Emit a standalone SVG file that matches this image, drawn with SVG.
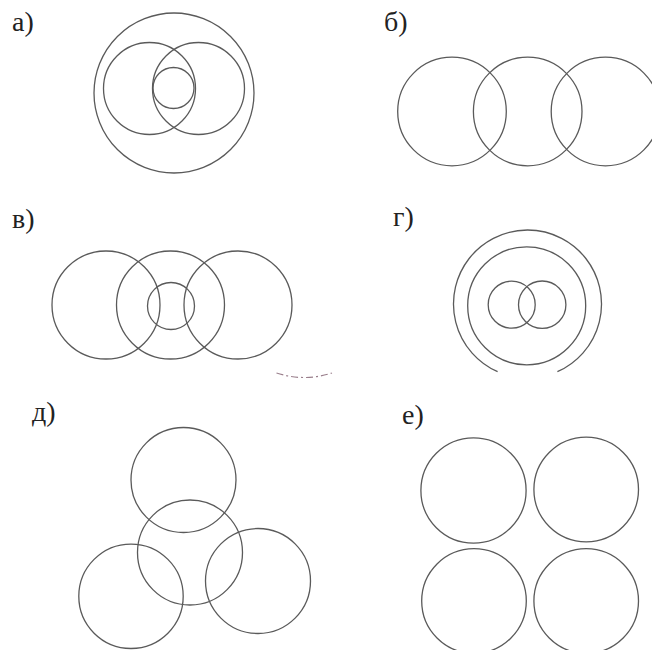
<svg xmlns="http://www.w3.org/2000/svg" width="652" height="650" viewBox="0 0 652 650">
<style>
.c{fill:none;stroke:#5a5a5a;stroke-width:1.3}
.lbl{font-family:"Liberation Serif","DejaVu Serif",serif;font-size:28px;fill:#222}
.d{fill:none;stroke:#9a7f8c;stroke-width:1.2;stroke-dasharray:7 3 2 3}
</style>
<rect width="652" height="650" fill="#fff"/>
<g id="panel-a">
<text class="lbl" x="12" y="31">а)</text>
<circle class="c" cx="174" cy="93" r="80"/>
<circle class="c" cx="149.5" cy="88.5" r="46"/>
<circle class="c" cx="198.5" cy="88.5" r="46"/>
<circle class="c" cx="173.5" cy="88" r="20.5"/>
</g>
<g id="panel-b">
<text class="lbl" x="384" y="31">б)</text>
<circle class="c" cx="452" cy="111.5" r="54.3"/>
<circle class="c" cx="527.7" cy="111.5" r="54.3"/>
<circle class="c" cx="605.5" cy="111.5" r="54.3"/>
</g>
<g id="panel-v">
<text class="lbl" x="12" y="228">в)</text>
<circle class="c" cx="106" cy="305" r="54"/>
<circle class="c" cx="170.5" cy="305" r="54"/>
<circle class="c" cx="238" cy="305" r="54"/>
<circle class="c" cx="171" cy="306" r="23.5"/>
<path class="d" d="M276.5 373 Q304 382 332 373"/>
</g>
<g id="panel-g">
<text class="lbl" x="393" y="226">г)</text>
<path class="c" d="M497.6 371.7 A74 74 0 1 1 557.4 371.7"/>
<circle class="c" cx="526.7" cy="305.8" r="59"/>
<circle class="c" cx="511.7" cy="304.7" r="23.5"/>
<circle class="c" cx="542.2" cy="304.7" r="23.7"/>
</g>
<g id="panel-d">
<text class="lbl" x="32" y="421">д)</text>
<circle class="c" cx="183.5" cy="480" r="52.5"/>
<circle class="c" cx="190" cy="552.5" r="52.5"/>
<circle class="c" cx="131" cy="596.3" r="52.2"/>
<circle class="c" cx="258" cy="581" r="52.5"/>
</g>
<g id="panel-e">
<text class="lbl" x="402" y="424">е)</text>
<circle class="c" cx="473.5" cy="490.5" r="52.6"/>
<circle class="c" cx="586.2" cy="489.5" r="52.3"/>
<circle class="c" cx="474" cy="601" r="52.3"/>
<circle class="c" cx="586.2" cy="601" r="52.3"/>
</g>
</svg>
